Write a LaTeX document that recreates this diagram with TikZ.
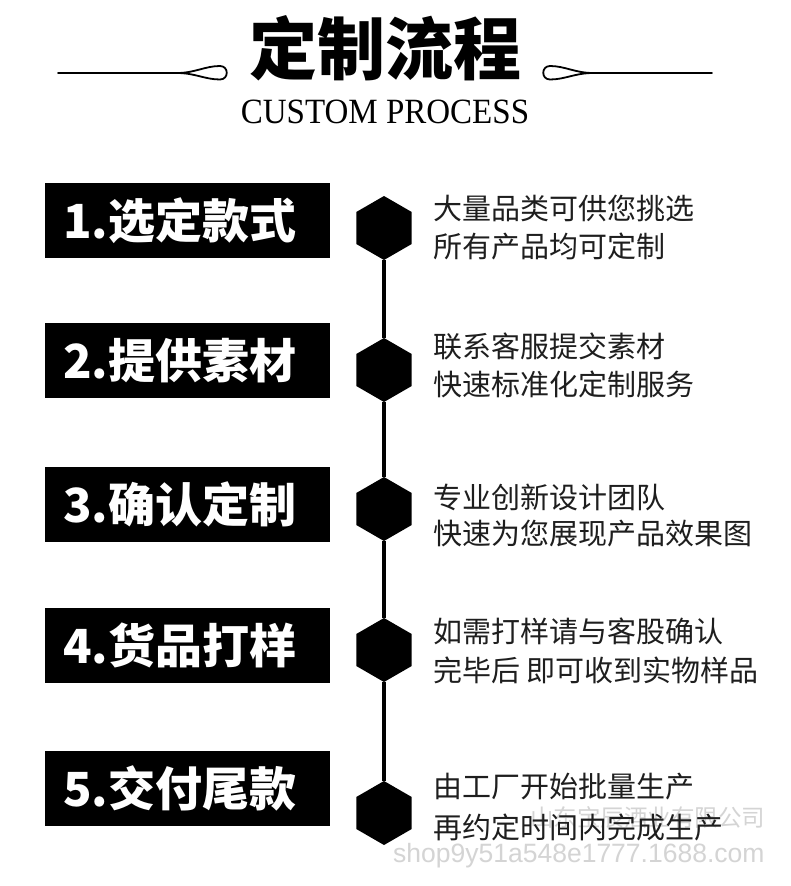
\documentclass[tikz,border=0pt]{standalone}
\usepackage{fontspec}
\setmainfont{Liberation Serif}
\newfontfamily\cjk{Noto Sans CJK SC}
\newfontfamily\wmfont{Liberation Sans}
\usetikzlibrary{shapes.geometric}
\definecolor{txtgray}{HTML}{1E1E1E}
\definecolor{wmgray}{HTML}{D4D4D4}
\tikzset{
  stepbox/.style={fill=black, text=white, minimum width=285pt, minimum height=75pt,
    text width=249pt, inner xsep=18pt, inner ysep=0pt, align=left,
    font=\cjk\bfseries\fontsize{47}{50}\selectfont},
  hexnode/.style={regular polygon, regular polygon sides=6, shape border rotate=30,
    fill=black, draw=none, minimum size=64pt, inner sep=0pt},
  desc/.style={anchor=west, inner sep=0pt, text=txtgray,
    font=\cjk\fontsize{29}{31}\selectfont},
  spine/.style={line width=4pt, black},
  orn/.style={line width=1.8pt, black, line cap=round, line join=round},
  wm/.style={text=wmgray, inner sep=0pt}
}
\begin{document}
\begin{tikzpicture}[x=1pt,y=-1pt]
\fill[white] (0,0) rectangle (790,886);
\useasboundingbox (0,0) rectangle (790,886);

% title
\node[inner sep=0pt, font=\cjk\bfseries\fontsize{68}{72}\selectfont] (title) at (385,48) {定制流程};
\node[inner sep=0pt, font=\fontsize{35.5}{38}\selectfont, xscale=0.93] (sub) at (385,112) {CUSTOM PROCESS};

% ornaments
\draw[orn] (58,73) -- (177,73) .. controls (195,73) and (205,66) .. (220,66)
  .. controls (229,66) and (229,79.5) .. (220,79.5)
  .. controls (205,79.5) and (195,73) .. (177,73);
\draw[orn] (712,73) -- (593,73) .. controls (575,73) and (565,66) .. (550,66)
  .. controls (541,66) and (541,79.5) .. (550,79.5)
  .. controls (565,79.5) and (575,73) .. (593,73);

% watermark
\node[wm, anchor=west, font=\cjk\fontsize{23.5}{26}\selectfont] (wm1) at (530,818) {山东宝辰酒业有限公司};
\node[wm, anchor=west, font=\wmfont\fontsize{26.5}{28}\selectfont] (wm2) at (393,856) {shop9y51a548e1777.1688.com};

% hexagons
\node[hexnode] (h1) at (384,228) {};
\node[hexnode] (h2) at (384,370) {};
\node[hexnode] (h3) at (384,509) {};
\node[hexnode] (h4) at (384,650) {};
\node[hexnode] (h5) at (384,813) {};
\draw[spine] (h1) -- (h2);
\draw[spine] (h2) -- (h3);
\draw[spine] (h3) -- (h4);
\draw[spine] (h4) -- (h5);

% boxes
\node[stepbox] (b1) at (187.5,220.5) {1.选定款式};
\node[stepbox] (b2) at (187.5,360.5) {2.提供素材};
\node[stepbox] (b3) at (187.5,504) {3.确认定制};
\node[stepbox] (b4) at (187.5,645) {4.货品打样};
\node[stepbox] (b5) at (187.5,788.5) {5.交付尾款};

% descriptions
\node[desc] (d1a) at (433,208) {大量品类可供您挑选};
\node[desc] (d1b) at (433,246) {所有产品均可定制};
\node[desc] (d2a) at (433,346) {联系客服提交素材};
\node[desc] (d2b) at (433,384) {快速标准化定制服务};
\node[desc] (d3a) at (433,497) {专业创新设计团队};
\node[desc] (d3b) at (433,534) {快速为您展现产品效果图};
\node[desc] (d4a) at (433,631) {如需打样请与客股确认};
\node[desc] (d4b) at (433,670) {完毕后 即可收到实物样品};
\node[desc] (d5a) at (433,787) {由工厂开始批量生产};
\node[desc] (d5b) at (433,827) {再约定时间内完成生产};
\end{tikzpicture}
\end{document}
